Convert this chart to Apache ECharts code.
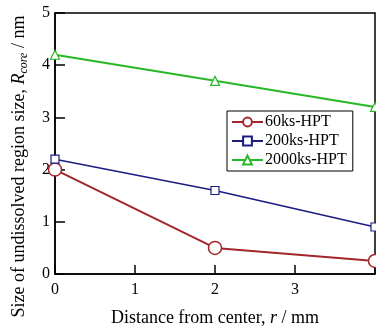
<!DOCTYPE html>
<html>
<head>
<meta charset="utf-8">
<title>Rcore vs distance</title>
<script src="https://cdn.jsdelivr.net/npm/echarts@6/dist/echarts.min.js"></script>
<style>
html,body{margin:0;padding:0;background:#fff;}
#main{width:376px;height:329px;}
</style>
</head>
<body>
<div id="main"></div>
<script>
// distance from center, r / mm
var distance = [0, 2, 4];
var seriesNames = ['60ks-HPT', '200ks-HPT', '2000ks-HPT'];
var hpt60 = [2.0, 0.5, 0.25];
var hpt200 = [2.2, 1.6, 0.9];
var hpt2000 = [4.2, 3.7, 3.2];
var xTicks = [0, 1, 2, 3];
var yTicks = [0, 1, 2, 3, 4, 5];

var font = 'Liberation Serif';

function pairs(ys) {
    return distance.map(function (x, i) { return [x, ys[i]]; });
}

var chart = echarts.init(document.getElementById('main'));

var option = {
    backgroundColor: '#fff',
    animation: false,
    grid: {
        left: 55, right: 1, top: 13, bottom: 55,
        outerBoundsMode: 'none', containLabel: false,
        show: true, borderColor: '#000', borderWidth: 1.5
    },
    legend: {
        orient: 'vertical',
        left: 227, top: 111,
        itemWidth: 31, itemHeight: 11, itemGap: 3,
        padding: [3, 6, 3, 4],
        borderColor: '#000', borderWidth: 1,
        backgroundColor: '#fff',
        textStyle: { fontFamily: font, fontSize: 16, color: '#000', padding: [0, 0, 0, -3] },
        data: seriesNames
    },
    xAxis: {
        type: 'value', min: 0, max: 4, interval: 1,
        name: 'Distance from center, {i|r} / mm',
        nameLocation: 'middle', nameGap: 35,
        nameTextStyle: {
            fontFamily: font, fontSize: 18, color: '#000',
            rich: { i: { fontFamily: font, fontSize: 18, fontStyle: 'italic', color: '#000' } }
        },
        axisLine: { lineStyle: { color: '#000', width: 1.5 } },
        axisTick: { inside: true, length: 9, lineStyle: { color: '#000', width: 1.5 } },
        splitLine: { show: false },
        axisLabel: {
            fontFamily: font, fontSize: 16, color: '#000', margin: 8,
            formatter: function (v) { return xTicks.indexOf(v) >= 0 ? String(v) : ''; }
        }
    },
    yAxis: {
        type: 'value', min: 0, max: 5, interval: 1,
        name: 'Size of undissolved region size, {i|R}{s|core} / nm',
        nameLocation: 'middle', nameGap: 25, nameRotate: 90,
        nameTextStyle: {
            fontFamily: font, fontSize: 18, color: '#000', lineHeight: 22,
            padding: [0, 46, 0, 0],
            rich: {
                i: { fontFamily: font, fontSize: 18, fontStyle: 'italic', color: '#000', lineHeight: 22 },
                s: { fontFamily: font, fontSize: 12, fontStyle: 'italic', color: '#000', lineHeight: 22, verticalAlign: 'bottom', padding: [7, 0, 0, 0] }
            }
        },
        axisLine: { lineStyle: { color: '#000', width: 1.5 } },
        axisTick: { inside: true, length: 10, lineStyle: { color: '#000', width: 1.5 } },
        splitLine: { show: false },
        axisLabel: {
            fontFamily: font, fontSize: 16, color: '#000', margin: 5,
            formatter: function (v) { return yTicks.indexOf(v) >= 0 ? String(v) : ''; }
        }
    },
    series: [
        {
            name: seriesNames[0], type: 'line', data: pairs(hpt60),
            symbol: 'circle', symbolSize: 13, showAllSymbol: true,
            lineStyle: { color: '#a3262a', width: 2 },
            itemStyle: { color: '#fff', borderColor: '#a3262a', borderWidth: 1.5 }
        },
        {
            name: seriesNames[1], type: 'line', data: pairs(hpt200),
            symbol: 'rect', symbolSize: 8,
            lineStyle: { color: '#1c1c84', width: 1.5 },
            itemStyle: { color: '#fff', borderColor: '#1c1c84', borderWidth: 1.2 }
        },
        {
            name: seriesNames[2], type: 'line', data: pairs(hpt2000),
            symbol: 'triangle', symbolSize: 9,
            lineStyle: { color: '#27b827', width: 2 },
            itemStyle: { color: '#fff', borderColor: '#27b827', borderWidth: 1.2 }
        }
    ]
};

chart.setOption(option);
</script>
</body>
</html>
